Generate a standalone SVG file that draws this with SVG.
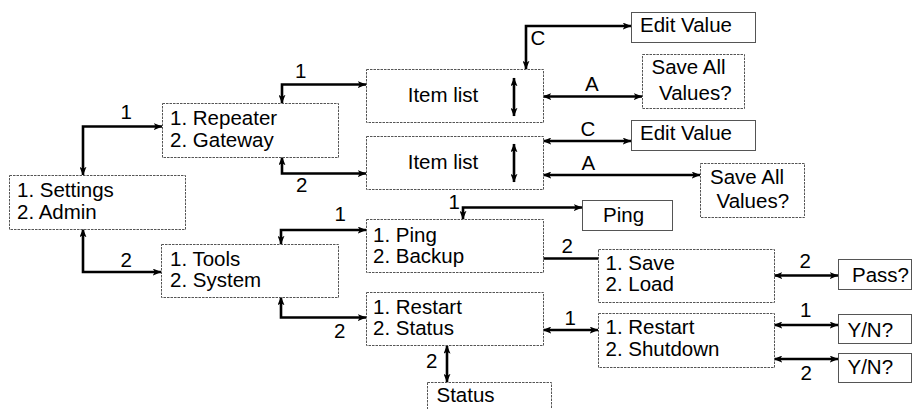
<svg xmlns="http://www.w3.org/2000/svg" width="912" height="409" viewBox="0 0 912 409">
<style>
  .bd { fill: #fff; stroke: #555; stroke-width: 1; stroke-dasharray: 2.5 1; }
  .bs { fill: #fff; stroke: #555; stroke-width: 1; }
  text { font-family: "Liberation Sans", Arial, sans-serif; font-size: 20.5px; fill: #000; }
  .c { fill: none; stroke: #000; stroke-width: 2.6; }
  .a2 { marker-start: url(#ah); marker-end: url(#ah); }
</style>
<defs>
  <marker id="ah" viewBox="0 0 10 8" markerWidth="9" markerHeight="7" refX="9.5" refY="4" orient="auto-start-reverse" markerUnits="userSpaceOnUse">
    <path d="M0,0 L10,4 L0,8 L2.5,4 z" fill="#000"/>
  </marker>
</defs>

<g id="connectors">
  <path class="c a2" d="M83,175 V126.5 H162"/>
  <path class="c a2" d="M83,229 V272 H161"/>
  <path class="c a2" d="M282,103 V84.5 H366"/>
  <path class="c a2" d="M282,157 V173.5 H366"/>
  <path class="c a2" d="M526,69 V26 H631"/>
  <path class="c a2" d="M543,96.5 H642"/>
  <path class="c a2" d="M543,141 H631"/>
  <path class="c a2" d="M543,175 H700"/>
  <path class="c a2" d="M281,244 V230 H366"/>
  <path class="c a2" d="M281,297 V317.5 H366"/>
  <path class="c a2" d="M463,219 V207.5 H582"/>
  <path class="c" d="M543,258.5 H598"/>
  <path class="c a2" d="M774,275.5 H838"/>
  <path class="c a2" d="M543,330 H598"/>
  <path class="c a2" d="M774,325 H838"/>
  <path class="c a2" d="M774,359 H838"/>
  <path class="c a2" d="M447,345.5 V382"/>
  <text x="120.5" y="119">1</text>
  <text x="120.5" y="266.5">2</text>
  <text x="295" y="77.5">1</text>
  <text x="296" y="192">2</text>
  <text x="530.5" y="45">C</text>
  <text x="585" y="90.5">A</text>
  <text x="580.5" y="135.5">C</text>
  <text x="581.5" y="170">A</text>
  <text x="334.5" y="220.5">1</text>
  <text x="334" y="337.5">2</text>
  <text x="448.5" y="208.5">1</text>
  <text x="561.5" y="252.5">2</text>
  <text x="799.5" y="267.5">2</text>
  <text x="564.5" y="325">1</text>
  <text x="800" y="316.5">1</text>
  <text x="800.5" y="380">2</text>
  <text x="426" y="367.5">2</text>
</g>

<g id="settings">
  <rect class="bd" x="9.5" y="175.5" width="176" height="54"/>
  <text x="17" y="197">1. Settings</text>
  <text x="17" y="219">2. Admin</text>
</g>
<g id="repeater">
  <rect class="bd" x="162.5" y="103.5" width="176" height="54"/>
  <text x="170" y="125">1. Repeater</text>
  <text x="170" y="147">2. Gateway</text>
</g>
<g id="tools">
  <rect class="bd" x="161.5" y="244.5" width="177" height="53"/>
  <text x="170" y="265.5">1. Tools</text>
  <text x="170" y="287">2. System</text>
</g>
<g id="itemlist1">
  <rect class="bd" x="366.5" y="69.5" width="177" height="53"/>
  <text x="443" y="102" text-anchor="middle">Item list</text>
  <path class="c a2" d="M514,78 V116"/>
</g>
<g id="itemlist2">
  <rect class="bd" x="366.5" y="136.5" width="177" height="53"/>
  <text x="443" y="168.5" text-anchor="middle">Item list</text>
  <path class="c a2" d="M514,144 V182"/>
</g>
<g id="editvalue1">
  <rect class="bs" x="631.5" y="12.5" width="124" height="30"/>
  <text x="640" y="32">Edit Value</text>
</g>
<g id="saveall1">
  <rect class="bd" x="642.5" y="54.5" width="102" height="54"/>
  <text x="651.5" y="74">Save All</text>
  <text x="659" y="100">Values?</text>
</g>
<g id="editvalue2">
  <rect class="bs" x="631.5" y="120.5" width="124" height="30"/>
  <text x="640" y="140">Edit Value</text>
</g>
<g id="saveall2">
  <rect class="bd" x="700.5" y="163.5" width="104" height="54"/>
  <text x="710" y="183.5">Save All</text>
  <text x="716.5" y="208">Values?</text>
</g>
<g id="pingbackup">
  <rect class="bd" x="366.5" y="219.5" width="177" height="53"/>
  <text x="373" y="241.5">1. Ping</text>
  <text x="373" y="262.5">2. Backup</text>
</g>
<g id="ping">
  <rect class="bs" x="582.5" y="200.5" width="90" height="30"/>
  <text x="603" y="221.5">Ping</text>
</g>
<g id="restartstatus">
  <rect class="bd" x="366.5" y="292.5" width="177" height="53"/>
  <text x="373" y="313.5">1. Restart</text>
  <text x="373" y="334.5">2. Status</text>
</g>
<g id="saveload">
  <rect class="bd" x="598.5" y="249.5" width="176" height="53"/>
  <text x="605.5" y="270">1. Save</text>
  <text x="605.5" y="291">2. Load</text>
</g>
<g id="pass">
  <rect class="bs" x="838.5" y="259.5" width="73" height="30"/>
  <text x="852" y="281.5">Pass?</text>
</g>
<g id="restartshutdown">
  <rect class="bd" x="598.5" y="313.5" width="176" height="54"/>
  <text x="605.5" y="334">1. Restart</text>
  <text x="605.5" y="355.5">2. Shutdown</text>
</g>
<g id="yn1">
  <rect class="bs" x="838.5" y="314.5" width="73" height="29"/>
  <text x="847.5" y="336.5">Y/N?</text>
</g>
<g id="yn2">
  <rect class="bs" x="838.5" y="353.5" width="73" height="29"/>
  <text x="847.5" y="374">Y/N?</text>
</g>
<g id="status">
  <rect class="bd" x="427.5" y="382.5" width="124" height="40"/>
  <text x="436.5" y="401.5">Status</text>
</g>
</svg>
